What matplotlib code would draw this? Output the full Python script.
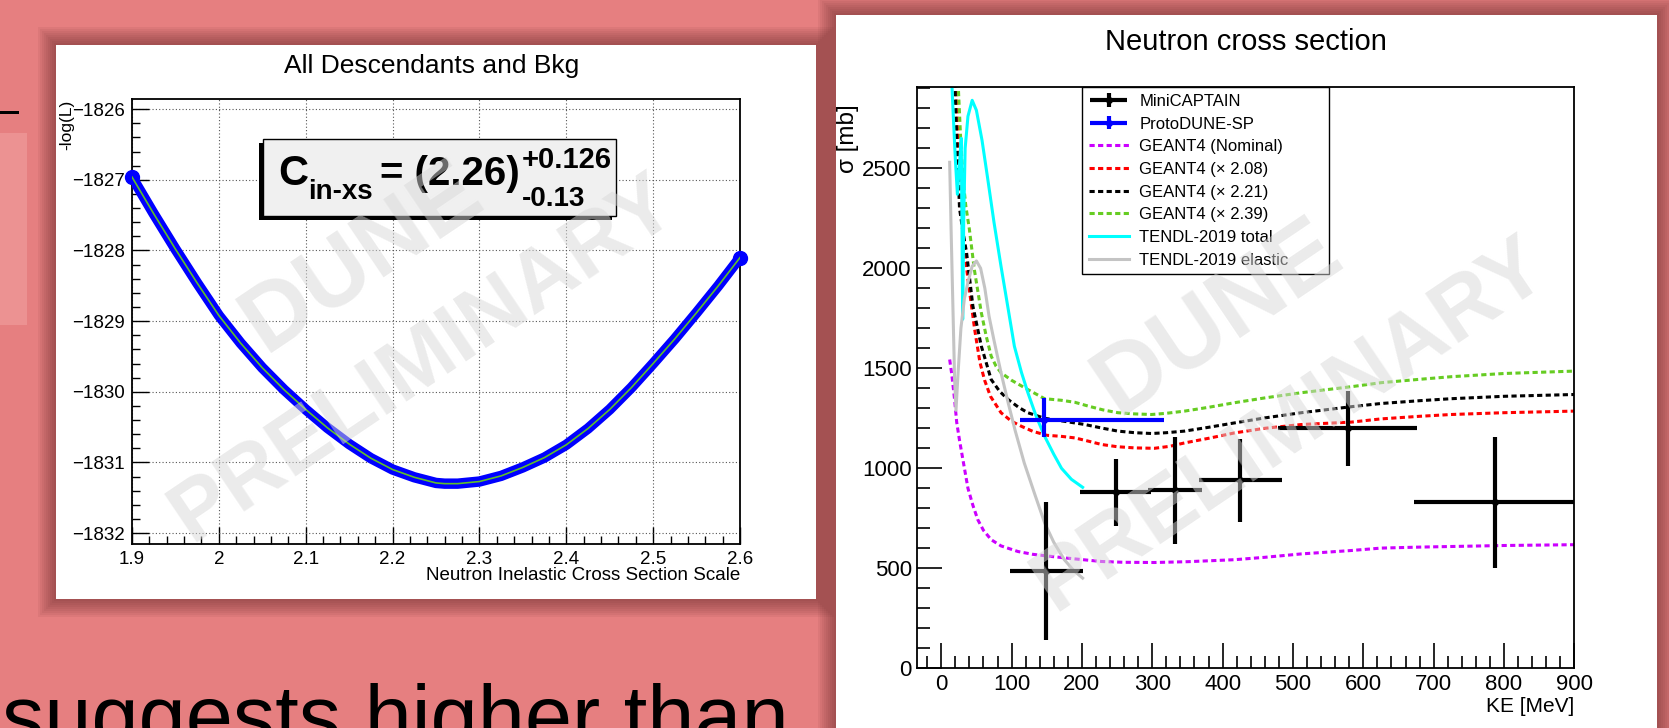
import matplotlib
matplotlib.use('Agg')
import matplotlib.pyplot as plt
from matplotlib.patches import Rectangle
from matplotlib.ticker import MultipleLocator, FixedLocator, FuncFormatter
from matplotlib.container import ErrorbarContainer
from matplotlib.legend_handler import HandlerErrorbar

W, H = 1669, 728
plt.rcParams['font.family'] = ['Liberation Sans', 'DejaVu Sans']

# ---- left plot: -log(L) scan ----
ll_x = [1.900, 1.925, 1.950, 1.975, 2.000, 2.025, 2.050, 2.075, 2.100, 2.125, 2.150, 2.175, 2.200,
        2.225, 2.250, 2.260, 2.275, 2.300, 2.325, 2.350, 2.375, 2.400, 2.425, 2.450, 2.475, 2.500,
        2.525, 2.550, 2.575, 2.600]
ll_y = [-1826.96, -1827.48, -1827.98, -1828.46, -1828.92, -1829.31, -1829.66, -1829.97, -1830.25,
        -1830.51, -1830.74, -1830.94, -1831.10, -1831.21, -1831.29, -1831.30, -1831.30, -1831.27,
        -1831.19, -1831.07, -1830.93, -1830.75, -1830.52, -1830.25, -1829.94, -1829.60, -1829.25,
        -1828.88, -1828.50, -1828.10]

# ---- right plot: neutron cross section ----
mc_x = [149, 248, 332, 425, 578, 787.5]
mc_y = [488, 880, 890, 941, 1200, 830]
mc_xlo = [51, 51, 38, 58, 99, 115]
mc_xhi = [52, 50, 39, 59, 98, 115]
mc_ylo = [347, 169, 268, 211, 187, 327]
mc_yhi = [345, 166, 265, 204, 188, 328]

pd_x = [145.5]
pd_y = [1240]
pd_xlo = [33]
pd_xhi = [171]
pd_ylo = [85]
pd_yhi = [110]

nom_x = [12, 15, 19, 22, 26, 30, 33, 38, 45, 52, 60, 71, 85, 109, 130, 157, 190, 228, 260, 303,
         350, 417, 460, 512, 583, 625, 680, 725, 800, 900]
nom_y = [1544, 1470, 1344, 1230, 1140, 1060, 1000, 900, 815, 743, 690, 643, 612, 584, 570, 559,
         547, 534, 530, 529, 533, 543, 555, 572, 589, 601, 606, 609, 614, 618]

r208_x = [19, 22, 25, 28.6, 33, 38, 47.5, 55, 61.7, 70, 85, 100, 114, 130, 150, 170, 190, 210, 228,
          250, 275, 303, 325, 346, 380, 417, 460, 512, 583, 625, 680, 725, 800, 900]
r208_y = [3100, 2800, 2500, 2279, 2100, 1945, 1695, 1530, 1440, 1360, 1278, 1235, 1210, 1185, 1165,
          1160, 1152, 1135, 1119, 1108, 1102, 1100, 1110, 1127, 1150, 1177, 1200, 1219, 1231, 1247,
          1260, 1269, 1278, 1286]

r221_x = [18, 21, 26, 31, 36, 45, 57, 71, 83, 95, 110, 123, 147, 175, 204, 230, 251, 275, 299, 320,
          346, 380, 417, 460, 512, 583, 625, 680, 725, 800, 900]
r221_y = [3100, 2750, 2300, 2180, 2079, 1811, 1611, 1444, 1385, 1344, 1305, 1278, 1250, 1235, 1219,
          1200, 1186, 1178, 1174, 1178, 1186, 1205, 1227, 1252, 1278, 1308, 1324, 1338, 1348, 1360, 1369]

r239_x = [22, 25, 28, 31, 35, 40, 47, 57, 64, 71, 78, 85, 100, 123, 147, 171, 190, 209, 230, 251,
          275, 299, 320, 346, 380, 417, 460, 512, 583, 625, 680, 725, 800, 900]
r239_y = [3100, 2850, 2620, 2446, 2310, 2196, 1995, 1778, 1660, 1561, 1510, 1478, 1440, 1394, 1348,
          1340, 1330, 1311, 1292, 1278, 1272, 1269, 1275, 1286, 1305, 1328, 1352, 1378, 1408, 1428,
          1445, 1458, 1474, 1486]

tot_x = [13, 16, 20, 23, 26, 28.5, 30.5, 32, 34, 38, 44, 50, 58, 66, 75, 85, 95, 104, 114, 123,
         135, 147, 160, 171, 185, 201]
tot_y = [3100, 2850, 2550, 2370, 2520, 2650, 1745, 2250, 2600, 2760, 2840, 2790, 2640, 2450, 2230,
         2010, 1800, 1610, 1480, 1380, 1260, 1160, 1070, 1000, 945, 905]

el_x = [12, 14, 17, 19, 21, 24, 28, 33, 38, 44, 50, 56, 62, 68, 75, 85, 95, 105, 118, 133, 147,
        160, 175, 188, 201]
el_y = [2530, 2200, 1750, 1450, 1290, 1480, 1700, 1850, 1930, 2010, 2037, 2000, 1900, 1760, 1640,
        1478, 1330, 1190, 1027, 870, 727, 630, 543, 490, 451]


def fx(px):
    return px / W


def fy(py):
    return 1 - py / H


def box(x0, y0, x1, y1, **kw):
    r = Rectangle((fx(x0), fy(y1)), (x1 - x0) / W, (y1 - y0) / H,
                  transform=fig.transFigure, **kw)
    fig.add_artist(r)
    return r


def shadow(x0, y0, x1, y1):
    for i in range(1, 10):
        box(x0 - 2 * i, y0 - 2 * i, x1 + 2 * i, y1 + 2 * i, facecolor='#5e2222',
            edgecolor='none', alpha=0.065, zorder=-6)


fig = plt.figure(figsize=(W / 100, H / 100), dpi=100)
fig.patch.set_facecolor('#e67f80')

# slide decorations
box(0, 133, 27, 325, facecolor='#ec9292', edgecolor='none', zorder=-7)
box(0, 111, 19, 113.5, facecolor='black', edgecolor='none', zorder=-7)
fig.text(fx(2), fy(745), 'suggests higher than', fontsize=61, va='baseline', ha='left')

# panels
shadow(56, 45, 816, 599)
box(56, 45, 816, 599, facecolor='white', edgecolor='none', zorder=-4)
shadow(836, 15, 1657, 760)
box(836, 15, 1657, 760, facecolor='white', edgecolor='none', zorder=-4)

minus = FuncFormatter(lambda v, p: ('%g' % v).replace('-', '\u2212'))

# ---------------- left plot ----------------
axL = fig.add_axes([fx(132), fy(543.7), (740 - 132) / W, (543.7 - 99.3) / H])
axL.plot(ll_x, ll_y, color='#0000ff', lw=7.5, solid_capstyle='round', zorder=3)
axL.plot([ll_x[0], ll_x[-1]], [ll_y[0], ll_y[-1]], 'o', color='#0000ff', ms=10,
         clip_on=False, zorder=3)
axL.plot(ll_x, ll_y, color='#5fbf2a', lw=1.2, zorder=4)
axL.set_xlim(1.9, 2.6)
axL.set_ylim(-1832.15, -1825.86)
axL.xaxis.set_major_locator(MultipleLocator(0.1))
axL.xaxis.set_minor_locator(MultipleLocator(0.02))
axL.yaxis.set_major_locator(FixedLocator([-1832, -1831, -1830, -1829, -1828, -1827, -1826]))
axL.yaxis.set_minor_locator(MultipleLocator(0.2))
axL.xaxis.set_major_formatter(FuncFormatter(lambda v, p: '%g' % round(v, 2)))
axL.yaxis.set_major_formatter(minus)
axL.tick_params(which='major', direction='in', length=12, width=1, labelsize=13.5, pad=5)
axL.tick_params(which='minor', direction='in', length=6, width=1)
axL.tick_params(top=False, right=False, which='both')
axL.grid(True, which='major', color='#555555', lw=0.8, ls=(0, (1, 2)))
for s in axL.spines.values():
    s.set_linewidth(1.3)

fig.text(fx(432), fy(66), 'All Descendants and Bkg', fontsize=19, ha='center', va='center')
fig.text(fx(67), fy(100), '-log(L)', fontsize=12.5, rotation=90, ha='center', va='top')
fig.text(fx(740), fy(576), 'Neutron Inelastic Cross Section Scale', fontsize=13.5,
         ha='right', va='center')

# result box
box(259, 143, 612, 220, facecolor='black', edgecolor='none', zorder=4)
box(263, 139, 616, 216, facecolor='#f0f0f0', edgecolor='black', lw=1, zorder=5)
bt = dict(fontweight='bold', va='baseline', zorder=6)
fig.text(fx(278), fy(185), 'C', fontsize=30, **bt)
fig.text(fx(308), fy(199), 'in-xs', fontsize=20, **bt)
fig.text(fx(380), fy(185), '= (2.26)', fontsize=29, **bt)
fig.text(fx(522), fy(168), '+0.126', fontsize=21, **bt)
fig.text(fx(522), fy(206), '-0.13', fontsize=20, **bt)

# ---------------- right plot ----------------
axR = fig.add_axes([fx(917.3), fy(668.3), (1574.4 - 917.3) / W, (668.3 - 87.3) / H])
dash = (0, (1.7, 1.1))
hn, = axR.plot(nom_x, nom_y, color='#cc00ff', lw=2.2, ls=dash, zorder=2)
h1, = axR.plot(r208_x, r208_y, color='#ff0000', lw=2.2, ls=dash, zorder=2)
h2, = axR.plot(r221_x, r221_y, color='black', lw=2.2, ls=dash, zorder=2)
h3, = axR.plot(r239_x, r239_y, color='#66cc22', lw=2.2, ls=dash, zorder=2)
ht, = axR.plot(tot_x, tot_y, color='#00ffff', lw=2.2, zorder=2)
he, = axR.plot(el_x, el_y, color='#c4c4c4', lw=2.2, zorder=2)
hm = axR.errorbar(mc_x, mc_y, xerr=[mc_xlo, mc_xhi], yerr=[mc_ylo, mc_yhi], fmt='o',
                  color='black', ms=4, elinewidth=3, capsize=0, zorder=3)
hp = axR.errorbar(pd_x, pd_y, xerr=[pd_xlo, pd_xhi], yerr=[pd_ylo, pd_yhi], fmt='o',
                  color='#0000ff', ms=4, elinewidth=3, capsize=0, zorder=3)
axR.set_xlim(-34, 900)
axR.set_ylim(0, 2905)
axR.xaxis.set_major_locator(MultipleLocator(100))
axR.xaxis.set_minor_locator(MultipleLocator(20))
axR.yaxis.set_major_locator(MultipleLocator(500))
axR.yaxis.set_minor_locator(MultipleLocator(100))
axR.tick_params(which='major', direction='in', length=18, width=1.2, labelsize=16)
axR.tick_params(which='minor', direction='in', length=9, width=1.2)
axR.tick_params(axis='x', which='major', pad=4)
axR.tick_params(axis='y', which='major', pad=4)
axR.tick_params(top=False, right=False, which='both')
for s in axR.spines.values():
    s.set_linewidth(1.3)

leg = axR.legend([hm, hp, hn, h1, h2, h3, ht, he],
                 ['MiniCAPTAIN', 'ProtoDUNE-SP', 'GEANT4 (Nominal)', 'GEANT4 (\u00d7 2.08)',
                  'GEANT4 (\u00d7 2.21)', 'GEANT4 (\u00d7 2.39)', 'TENDL-2019 total',
                  'TENDL-2019 elastic'],
                 handler_map={ErrorbarContainer: HandlerErrorbar(xerr_size=1.1, yerr_size=0.4)},
                 loc='upper left', bbox_to_anchor=(0.2506, 0.0, 0.3759, 1.0), mode='expand',
                 borderaxespad=0, fontsize=12, fancybox=False, framealpha=1,
                 edgecolor='black', handlelength=2.4, handletextpad=0.65, borderpad=0.4,
                 labelspacing=0.46)
leg.get_frame().set_linewidth(1.0)

fig.text(fx(1246), fy(42), 'Neutron cross section', fontsize=21, ha='center', va='center')
fig.text(fx(848), fy(104), '\u03c3 [mb]', fontsize=17.5, rotation=90, ha='center', va='top')
fig.text(fx(1574), fy(707), 'KE [MeV]', fontsize=15, ha='right', va='center')

# watermarks
wm = dict(color='#d8d8d8', alpha=0.5, fontweight='bold', rotation=34,
          rotation_mode='anchor', ha='center', va='center', zorder=8)
fig.text(fx(362), fy(258), 'DUNE', fontsize=68, **wm)
fig.text(fx(423), fy(359), 'PRELIMINARY', fontsize=62, **wm)
fig.text(fx(1218), fy(318), 'DUNE', fontsize=70, **wm)
fig.text(fx(1290), fy(425), 'PRELIMINARY', fontsize=63, **wm)

fig.savefig('out.png', dpi=100, facecolor=fig.get_facecolor())
